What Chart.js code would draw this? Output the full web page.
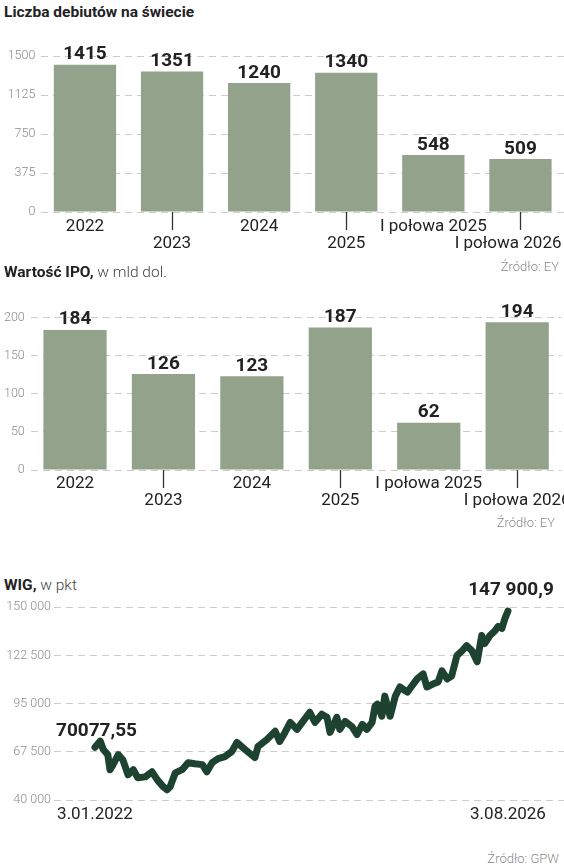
<!DOCTYPE html>
<html lang="pl">
<head>
    <meta charset="UTF-8">
    <title>Debiuty, IPO i WIG</title>
    <script src="https://cdn.jsdelivr.net/npm/chart.js"></script>
    <style>
        body { margin: 0; background: #fff; font-family: Roboto, sans-serif; color: #222; }
        #page { position: relative; width: 564px; height: 867px; overflow: hidden; }
        .title { position: absolute; left: 4px; font-size: 15.5px; line-height: 15.5px; font-weight: 700; color: #222; white-space: nowrap; }
        .title span { font-weight: 300; color: #444; }
        .src { position: absolute; font-size: 13px; line-height: 13px; font-weight: 300; color: #8a8a8a; white-space: nowrap; }
        .box { position: absolute; left: 0; width: 564px; }
    </style>
</head>
<body>
<div id="page">
    <div class="title" style="top:5.3px">Liczba debiutów na świecie</div>
    <div class="box" style="top:30px;height:230px"><canvas id="debuts"></canvas></div>
    <div class="src" style="top:259.8px;right:5px">Źródło: EY</div>

    <div class="title" style="top:264.7px">Wartość IPO,<span> w mld dol.</span></div>
    <div class="box" style="top:290px;height:240px"><canvas id="ipo"></canvas></div>
    <div class="src" style="top:515.8px;right:9px">Źródło: EY</div>

    <div class="title" style="top:577.7px">WIG,<span> w pkt</span></div>
    <div class="box" style="top:570px;height:262px"><canvas id="wig"></canvas></div>
    <div class="src" style="top:852.4px;right:5px">Źródło: GPW</div>
</div>

<script>
    // dane
    const periods = ['2022', '2023', '2024', '2025', 'I połowa 2025', 'I połowa 2026'];
    const debutCounts = [1415, 1351, 1240, 1340, 548, 509];
    const ipoValues = [184, 126, 123, 187, 62, 194];

    const debutTicks = [0, 375, 750, 1125, 1500];
    const ipoTicks = [0, 50, 100, 150, 200];
    const wigTicks = [40000, 67500, 95000, 122500, 150000];

    // WIG: miesiące od 3.01.2022 i poziom indeksu
    const wigMonths = [0, 0.7, 1.1, 1.7, 2.0, 2.4, 3.1, 3.7, 4.4, 5.1, 5.7, 6.7, 7.6, 8.3, 9.1, 9.6, 10.0, 10.7,
        11.6, 12.4, 13.3, 14.3, 14.9, 15.6, 16.4, 17.3, 18.2, 18.9, 20.0, 21.3, 21.7, 22.9, 24.0, 24.6, 25.3,
        26.0, 26.9, 27.7, 28.6, 29.3, 30.2, 30.9, 31.3, 32.2, 32.6, 33.3, 34.2, 34.9, 35.6, 36.2, 36.9, 37.3,
        37.6, 38.2, 38.6, 39.3, 40.0, 40.6, 41.6, 42.2, 42.9, 43.7, 44.2, 45.0, 45.7, 46.2, 46.9, 47.5, 48.2,
        48.9, 49.5, 50.2, 50.9, 51.5, 51.9, 52.6, 53.3, 53.7, 54.2, 54.6, 55.0];
    const wigValues = [70077.55, 73600, 68800, 65900, 57300, 60200, 65900, 63000, 54400, 57300, 52700, 53200, 56100,
        51500, 47500, 45800, 47500, 55500, 57300, 61300, 60700, 60200, 56100, 61300, 63600, 64800, 67600, 72800,
        68800, 64200, 70500, 74500, 79200, 73400, 78600, 84300, 80300, 84900, 90100, 84300, 89000, 87200, 78600,
        87200, 80300, 84900, 82000, 77400, 83200, 80300, 84300, 93600, 94700, 87800, 99300, 87800, 99300, 104500,
        101600, 105100, 109100, 112000, 104500, 106200, 107400, 113700, 109100, 110800, 122400, 125200, 128100,
        125200, 118900, 133900, 129300, 133900, 136800, 139100, 138000, 143700, 147900.9];
    const wigDateLabels = ['3.01.2022', '3.08.2026'];
    const wigDateMonths = [0, 55];
    const wigFirstLabel = '70077,55';
    const wigLastLabel = '147 900,9';

    Chart.defaults.font.family = 'Roboto';
    Chart.defaults.animation = false;

    const barGreen = '#93a28a';
    const gridGrey = '#cccccc';

    function spaced(v) {
        return String(v).replace(/\B(?=(\d{3})+(?!\d))/g, ' ');
    }

    // etykiety wartości nad słupkami i podpisy osi X w dwóch rzędach
    const barText = {
        id: 'barText',
        afterDatasetsDraw(chart, args, opts) {
            const { ctx, chartArea } = chart;
            const xScale = chart.scales.x;
            const values = chart.data.datasets[0].data;
            ctx.save();
            ctx.textAlign = 'center';
            ctx.textBaseline = 'alphabetic';
            ctx.fillStyle = '#222';
            ctx.font = '700 19px Roboto';
            chart.getDatasetMeta(0).data.forEach((bar, i) => {
                ctx.fillText(values[i], bar.x, bar.y - 5.5);
            });
            ctx.font = '17px Roboto';
            ctx.strokeStyle = '#333';
            ctx.lineWidth = 1.3;
            chart.data.labels.forEach((label, i) => {
                const x = xScale.getPixelForValue(i);
                const odd = i % 2 === 1;
                let cx = x;
                const w = ctx.measureText(label).width;
                if (opts.clampRight && cx + w / 2 > chart.width - opts.clampRight) {
                    cx = chart.width - opts.clampRight - w / 2;
                }
                ctx.fillText(label, cx, chartArea.bottom + (odd ? opts.row2 : opts.row1));
                if (odd) {
                    ctx.beginPath();
                    ctx.moveTo(Math.round(x) + 0.5, chartArea.bottom);
                    ctx.lineTo(Math.round(x) + 0.5, chartArea.bottom + 18);
                    ctx.stroke();
                }
            });
            ctx.restore();
        }
    };

    function barChart(id, values, ticks, axisWidth, pad, textOpts) {
        return new Chart(document.getElementById(id), {
            type: 'bar',
            data: {
                labels: periods,
                datasets: [{
                    data: values,
                    backgroundColor: barGreen,
                    barPercentage: 0.715,
                    categoryPercentage: 1
                }]
            },
            options: {
                responsive: true,
                maintainAspectRatio: false,
                layout: { padding: pad },
                plugins: { legend: { display: false }, tooltip: { enabled: false }, barText: textOpts },
                scales: {
                    x: { display: false },
                    y: {
                        min: ticks[0],
                        max: ticks[ticks.length - 1],
                        afterFit: s => { s.width = axisWidth; },
                        afterBuildTicks: s => { s.ticks = ticks.map(v => ({ value: v })); },
                        ticks: { padding: 6, color: '#8c8c8c', font: { size: 12.5, weight: 300 }, callback: v => String(v) },
                        grid: { color: gridGrey, drawTicks: false },
                        border: { display: false, dash: [7, 5] }
                    }
                }
            },
            plugins: [barText]
        });
    }

    barChart('debuts', debutCounts, debutTicks, 41.4, { top: 26, bottom: 48, left: 0, right: 0 },
        { clampRight: 2.5, row1: 18.7, row2: 36.3 });
    barChart('ipo', ipoValues, ipoTicks, 30.8, { top: 27.7, bottom: 60, left: 0, right: 2.6 },
        { clampRight: 0, row1: 17.9, row2: 35.3 });

    // podpisy wartości skrajnych i dat na wykresie WIG
    const wigText = {
        id: 'wigText',
        afterDatasetsDraw(chart) {
            const { ctx, chartArea } = chart;
            const pts = chart.getDatasetMeta(0).data;
            const first = pts[0];
            const last = pts[pts.length - 1];
            ctx.save();
            ctx.textAlign = 'center';
            ctx.fillStyle = '#222';
            ctx.font = '700 19px Roboto';
            ctx.fillText(wigFirstLabel, first.x + 1.5, first.y - 11);
            ctx.fillText(wigLastLabel, last.x + 3, last.y - 16);
            ctx.font = '17px Roboto';
            wigDateLabels.forEach((label, i) => {
                const w = ctx.measureText(label).width;
                let cx = chart.scales.x.getPixelForValue(wigDateMonths[i]);
                if (cx + w / 2 > chart.width - 4) cx = chart.width - 4 - w / 2;
                ctx.fillText(label, cx, chartArea.bottom + 18.5);
            });
            ctx.restore();
        }
    };

    new Chart(document.getElementById('wig'), {
        type: 'line',
        data: {
            datasets: [{
                data: wigMonths.map((m, i) => ({ x: m, y: wigValues[i] })),
                borderColor: '#1d4330',
                borderWidth: 7,
                borderJoinStyle: 'round',
                borderCapStyle: 'round',
                pointRadius: 0,
                tension: 0
            }]
        },
        options: {
            responsive: true,
            maintainAspectRatio: false,
            layout: { padding: { top: 37.3, bottom: 32, left: 0, right: 0 } },
            plugins: { legend: { display: false }, tooltip: { enabled: false } },
            scales: {
                x: { type: 'linear', display: false, min: -5.46, max: 62.46 },
                y: {
                    min: wigTicks[0],
                    max: wigTicks[wigTicks.length - 1],
                    afterFit: s => { s.width = 54; },
                    afterBuildTicks: s => { s.ticks = wigTicks.map(v => ({ value: v })); },
                    ticks: { padding: 3, color: '#8c8c8c', font: { size: 12.5, weight: 300 }, callback: v => spaced(v) },
                    grid: { color: gridGrey, drawTicks: false },
                    border: { display: false, dash: [7, 5] }
                }
            }
        },
        plugins: [wigText]
    });
</script>
</body>
</html>
